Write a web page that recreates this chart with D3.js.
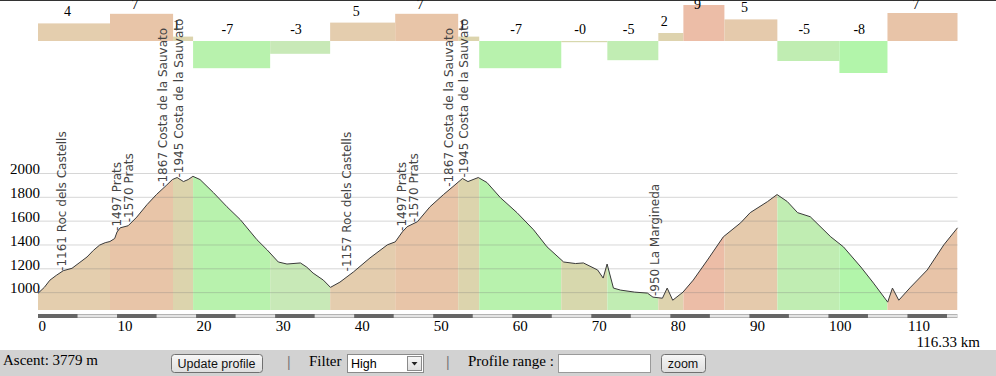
<!DOCTYPE html>
<html lang="en">
<head>
<meta charset="utf-8">
<title>Elevation profile</title>
<script src="https://cdn.jsdelivr.net/npm/d3@7"></script>
<style>
  body { margin: 0; background: #fff; }
  svg { display: block; }
</style>
</head>
<body>
<script>
// profile (km, metres)
var kmPts = [0, 0.8, 1.5, 2.3, 3.2, 4.3, 5.2, 6.2, 7.0, 7.8, 8.5, 9.1, 9.7, 10.0, 10.4, 11.4, 12.5, 13.8, 15.0, 16.3,
  17.0, 17.6, 18.4, 19.0, 19.6, 20.5, 22.2, 23.9, 25.6, 27.7, 29.0, 30.4, 31.5, 33.2, 34.0, 34.8, 36.1, 37.0,
  38.2, 39.9, 42.0, 44.2, 45.2, 46.1, 46.7, 48.0, 49.6, 51.3, 52.5, 53.7, 54.4, 55.7, 56.8, 58.5, 60.6, 62.7,
  64.4, 66.5, 68.0, 69.0, 70.8, 71.5, 72.0, 72.8, 73.7, 75.5, 77.1, 77.8, 79.0, 79.6, 80.3, 81.6, 82.9, 84.7,
  86.7, 88.9, 90.1, 92.3, 93.5, 94.8, 96.1, 97.7, 100.3, 101.9, 104.1, 105.7, 107.5, 108.1, 108.9, 110.4,
  112.5, 114.6, 116.33];
var elevPts = [990, 1040, 1100, 1140, 1180, 1200, 1245, 1295, 1350, 1395, 1415, 1425, 1450, 1505, 1540, 1557, 1630, 1735, 1820, 1900,
  1945, 1962, 1928, 1945, 1972, 1945, 1835, 1717, 1608, 1440, 1354, 1253, 1236, 1245, 1210, 1160, 1101, 1040,
  1084, 1169, 1287, 1397, 1422, 1506, 1549, 1591, 1717, 1819, 1886, 1954, 1928, 1962, 1920, 1793, 1667, 1523,
  1380, 1253, 1240, 1245, 1186, 1118, 1236, 1034, 1017, 1000, 992, 958, 949, 1034, 932, 1000, 1101, 1270,
  1464, 1582, 1667, 1760, 1819, 1760, 1667, 1633, 1464, 1380, 1211, 1076, 916, 1034, 932, 1042,
  1186, 1397, 1540];

// slope sections
var segStart = [0, 9.11, 17.09, 19.62, 29.37, 36.96, 45.19, 53.16, 55.82, 66.2, 72.03, 78.48, 81.65, 86.84, 93.54, 101.39, 107.47];
var segEnd = [9.11, 17.09, 19.62, 29.37, 36.96, 45.19, 53.16, 55.82, 66.2, 72.03, 78.48, 81.65, 86.84, 93.54, 101.39, 107.47, 116.33];
var segSlope = [4.4, 6.8, 1.1, -6.8, -3.2, 4.6, 6.8, 1.1, -6.8, -0.3, -4.8, 2.0, 9.0, 5.4, -5.0, -8.0, 7.0];

// named points
var poiKm = [3.0, 10.0, 11.5, 15.8, 17.85, 39.1, 46.1, 47.6, 52.0, 53.9, 78.1];
var poiElev = [1161, 1497, 1570, 1867, 1945, 1157, 1497, 1570, 1867, 1945, 950];
var poiName = ["Roc dels Castells", "Prats", "Prats", "Costa de la Sauvato", "Costa de la Sauvato",
  "Roc dels Castells", "Prats", "Prats", "Costa de la Sauvato", "Costa de la Sauvato", "La Margineda"];

var yTicks = [1000, 1200, 1400, 1600, 1800, 2000];
var xTicks = [0, 10, 20, 30, 40, 50, 60, 70, 80, 90, 100, 110];
var totalKm = 116.33;

var w = 996, h = 376;
var serif = "'Liberation Serif', 'Times New Roman', serif";
var sans = "'Liberation Sans', Arial, sans-serif";

var svg = d3.select("body").append("svg").attr("width", w).attr("height", h);

var x = d3.scaleLinear().domain([0, totalKm]).range([38, 957.5]);
var y = d3.scaleLinear().domain([850, 2000]).range([310, 173]);
var slopeY = d3.scaleLinear().domain([0, 10]).range([41, 1]);
var color = d3.scaleLinear()
  .domain([-8, -3, 0, 4, 7, 10])
  .range(["#b2f5aa", "#c9e8b8", "#d9d6ac", "#e3cfaf", "#e8c4a8", "#eebaa6"]);

var pts = kmPts.map(function(k, i) { return [k, elevPts[i]]; });
var segs = segStart.map(function(s, i) { return { s: s, e: segEnd[i], slope: segSlope[i] }; });

// top line
svg.append("line").attr("x1", 0).attr("x2", w).attr("y1", 0.5).attr("y2", 0.5)
  .attr("stroke", "#333");

// clip per section
var defs = svg.append("defs");
defs.selectAll("clipPath").data(segs).enter().append("clipPath")
  .attr("id", function(d, i) { return "seg" + i; })
  .append("rect")
  .attr("x", function(d) { return x(d.s); })
  .attr("width", function(d) { return x(d.e) - x(d.s); })
  .attr("y", 0).attr("height", h);

var area = d3.area().x(function(d) { return x(d[0]); }).y0(y(850)).y1(function(d) { return y(d[1]); });
var line = d3.line().x(function(d) { return x(d[0]); }).y(function(d) { return y(d[1]); });

svg.append("g").selectAll("path").data(segs).enter().append("path")
  .attr("d", area(pts))
  .attr("clip-path", function(d, i) { return "url(#seg" + i + ")"; })
  .attr("fill", function(d) { return color(d.slope); });

// grid
var grid = svg.append("g").attr("transform", "translate(38,0)")
  .call(d3.axisRight(y).tickValues(yTicks).tickSize(x(totalKm) - 38).tickFormat(""));
grid.select(".domain").remove();
grid.selectAll("line").attr("stroke", "#777").attr("stroke-opacity", 0.3);

svg.append("path").attr("d", line(pts)).attr("fill", "none")
  .attr("stroke", "#3a3a3a").attr("stroke-width", 1);

// y labels
var gy = svg.append("g").attr("transform", "translate(40,0)")
  .call(d3.axisLeft(y).tickValues(yTicks).tickSize(0).tickPadding(0).tickFormat(d3.format("d")));
gy.select(".domain").remove();
gy.attr("font-family", serif).attr("font-size", 15);
gy.selectAll("text").attr("dy", "0.05em").attr("fill", "#000");

// section bars on top
svg.append("g").selectAll("rect").data(segs).enter().append("rect")
  .attr("x", function(d) { return x(d.s); })
  .attr("width", function(d) { return x(d.e) - x(d.s); })
  .attr("y", function(d) { return Math.min(slopeY(d.slope), slopeY(0)); })
  .attr("height", function(d) { return Math.abs(slopeY(d.slope) - slopeY(0)); })
  .attr("fill", function(d) { return color(d.slope); });

svg.append("g").selectAll("text").data(segs).enter().append("text")
  .attr("x", function(d) { return (x(d.s) + x(d.e)) / 2 - 10; })
  .attr("y", function(d) { return Math.max(Math.min(slopeY(d.slope), slopeY(0)) - 7, 9); })
  .attr("font-family", serif).attr("font-size", 14).attr("fill", "#000")
  .text(function(d) { return d.slope.toFixed(0); });

// named points
svg.append("g").selectAll("text").data(poiKm).enter().append("text")
  .attr("transform", function(d, i) { return "translate(" + (x(d) + 4) + "," + (y(poiElev[i]) - 2) + ") rotate(-90)"; })
  .attr("font-family", "'DejaVu Sans', sans-serif").attr("font-size", 12).attr("fill", "#444")
  .text(function(d, i) { return "-" + poiElev[i] + " " + poiName[i]; });

// distance scale bar
var bar = svg.append("g");
bar.append("rect").attr("x", x(0)).attr("width", x(totalKm) - x(0)).attr("y", 314).attr("height", 4).attr("fill", "#b4b4b4");
bar.append("rect").attr("x", x(0)).attr("width", x(totalKm) - x(0)).attr("y", 315).attr("height", 2).attr("fill", "#e4e4e4");
bar.selectAll(".dk").data(d3.range(0, totalKm, 10)).enter().append("rect")
  .attr("x", function(d) { return x(d); })
  .attr("width", function(d) { return x(Math.min(d + 5, totalKm)) - x(d); })
  .attr("y", 314).attr("height", 4).attr("fill", "#666");

var gx = svg.append("g").attr("transform", "translate(0,331)")
  .call(d3.axisBottom(x).tickValues(xTicks).tickSize(0).tickPadding(0));
gx.select(".domain").remove();
gx.attr("font-family", serif).attr("font-size", 15);
gx.selectAll("text").attr("text-anchor", "start").attr("dy", 0).attr("y", 0).attr("fill", "#000");

svg.append("text").attr("x", 980).attr("y", 347).attr("text-anchor", "end")
  .attr("font-family", serif).attr("font-size", 15).text(totalKm + " km");

// toolbar
var tb = svg.append("g");
tb.append("rect").attr("x", 0).attr("y", 350).attr("width", w).attr("height", 26).attr("fill", "#d2d2d2");
tb.append("text").attr("x", 3).attr("y", 365).attr("font-family", serif).attr("font-size", 15).text("Ascent: 3779 m");

var grad = defs.append("linearGradient").attr("id", "btn").attr("x1", 0).attr("x2", 0).attr("y1", 0).attr("y2", 1);
grad.append("stop").attr("offset", 0).attr("stop-color", "#f7f7f7");
grad.append("stop").attr("offset", 1).attr("stop-color", "#dedede");

function button(x0, x1, label) {
  tb.append("rect").attr("x", x0 + 0.5).attr("y", 354.5).attr("width", x1 - x0).attr("height", 18).attr("rx", 3)
    .attr("fill", "url(#btn)").attr("stroke", "#707070");
  tb.append("text").attr("x", (x0 + x1) / 2).attr("y", 368).attr("text-anchor", "middle")
    .attr("font-family", sans).attr("font-size", 12.5).attr("fill", "#111").text(label);
}
button(171, 262, "Update profile");
button(661, 705, "zoom");

tb.append("text").attr("x", 287).attr("y", 367).attr("font-family", sans).attr("font-size", 14).attr("fill", "#777").text("|");
tb.append("text").attr("x", 446).attr("y", 367).attr("font-family", sans).attr("font-size", 14).attr("fill", "#777").text("|");
tb.append("text").attr("x", 309).attr("y", 366).attr("font-family", serif).attr("font-size", 15).text("Filter");
tb.append("text").attr("x", 468).attr("y", 366).attr("font-family", serif).attr("font-size", 15).text("Profile range :");

// select
tb.append("rect").attr("x", 347.5).attr("y", 354.5).attr("width", 76).attr("height", 18).attr("fill", "#fff").attr("stroke", "#8a8a8a");
tb.append("text").attr("x", 351).attr("y", 368).attr("font-family", sans).attr("font-size", 12.5).text("High");
tb.append("rect").attr("x", 407.5).attr("y", 356.5).attr("width", 14).attr("height", 14).attr("fill", "url(#btn)").attr("stroke", "#8a8a8a");
tb.append("path").attr("d", "M411.5,362 L417.5,362 L414.5,365.5 Z").attr("fill", "#222");

// input
tb.append("rect").attr("x", 558.5).attr("y", 354.5).attr("width", 92).attr("height", 18).attr("fill", "#fff").attr("stroke", "#9a9a9a");
</script>
</body>
</html>
